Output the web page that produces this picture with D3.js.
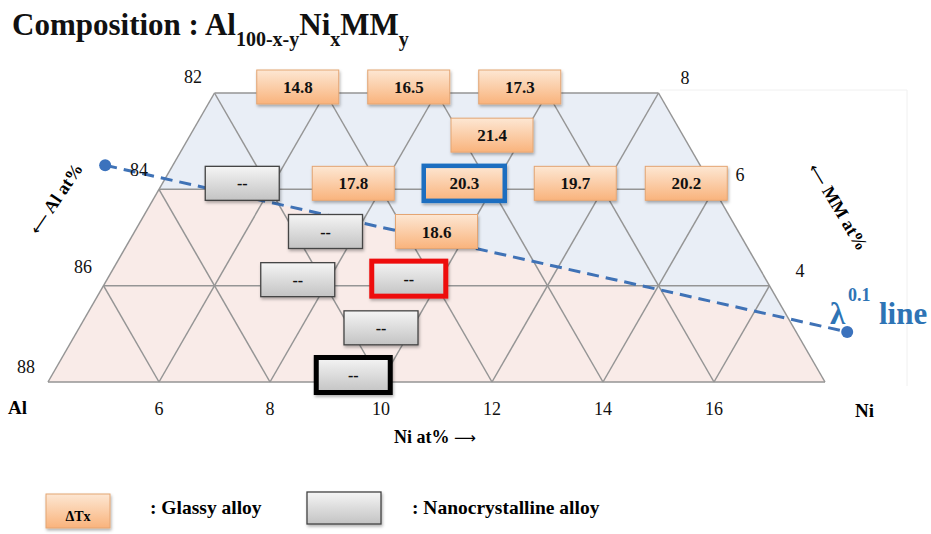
<!DOCTYPE html>
<html><head><meta charset="utf-8">
<script src="https://cdn.jsdelivr.net/npm/d3@7/dist/d3.min.js"></script>
<style>
html,body{margin:0;padding:0;background:#fff;}
svg{display:block;font-family:"Liberation Serif","Times New Roman",serif;}
</style></head>
<body>
<svg id="chart" width="931" height="534"></svg>
<script>
// ---- data ----
const niTicks = [6, 8, 10, 12, 14, 16];
const alTicks = [82, 84, 86, 88];
const mmTicks = [8, 6, 4];

const glassyNi  = [8.5, 10.5, 12.5, 12, 9.5, 11.5, 13.5, 15.5, 11];
const glassyAl  = [82, 82, 82, 83, 84, 84, 84, 84, 85];
const glassyDTx = ["14.8", "16.5", "17.3", "21.4", "17.8", "20.3", "19.7", "20.2", "18.6"];
const glassyMark = ["", "", "", "", "", "blue", "", "", ""];

const nanoNi   = [7.5, 9, 8.5, 10.5, 10, 9.5];
const nanoAl   = [84, 85, 86, 86, 87, 88];
const nanoLabel = ["--", "--", "--", "--", "--", "--"];
const nanoMark = ["", "", "", "red", "", "black"];

const lambdaNi = [5.03, 18.4];
const lambdaAl = [83.5, 86.96];

// ---- scales ----
const svg = d3.select("#chart");
const x = d3.scaleLinear().domain([4, 18]).range([48, 825]);
const y = d3.scaleLinear().domain([82, 88]).range([93, 382]);

const leftNi = al => 4 + (88 - al) / 2;
const rightNi = al => 18 - (88 - al) / 2;

const defs = svg.append("defs");
const og = defs.append("linearGradient").attr("id","og").attr("x1",0).attr("y1",0).attr("x2",0).attr("y2",1);
og.append("stop").attr("offset","0%").attr("stop-color","#fde7d3");
og.append("stop").attr("offset","100%").attr("stop-color","#f9b37c");
const gg = defs.append("linearGradient").attr("id","gg").attr("x1",0).attr("y1",0).attr("x2",0).attr("y2",1);
gg.append("stop").attr("offset","0%").attr("stop-color","#f5f5f5");
gg.append("stop").attr("offset","100%").attr("stop-color","#c3c3c3");
const sh = defs.append("filter").attr("id","sh").attr("x","-20%").attr("y","-30%").attr("width","140%").attr("height","170%");
sh.append("feDropShadow").attr("dx",1).attr("dy",2).attr("stdDeviation",1.5).attr("flood-color","#000").attr("flood-opacity",0.3);

const trap = [[leftNi(82),82],[rightNi(82),82],[rightNi(88),88],[leftNi(88),88]];
const line = d3.line().x(d => x(d[0])).y(d => y(d[1]));
defs.append("clipPath").attr("id","trapclip").append("path").attr("d", line(trap) + "Z");

// faint frame
svg.append("path").attr("d","M660,90H907V386").attr("fill","none").attr("stroke","#f0f0f0").attr("stroke-width",1);

// background regions
svg.append("path").attr("d", line(trap) + "Z").attr("fill", "#e9eef6");
const slope = (lambdaAl[1] - lambdaAl[0]) / (lambdaNi[1] - lambdaNi[0]);
const lamAl = ni => lambdaAl[0] + slope * (ni - lambdaNi[0]);
const niAt84 = lambdaNi[0] + (84 - lambdaAl[0]) / slope;
const pinkPoly = [[3,84],[niAt84,84],[19,lamAl(19)],[19,89],[3,89]];
svg.append("path").attr("d", line(pinkPoly) + "Z").attr("fill", "#f9ebe8").attr("clip-path","url(#trapclip)");

// grid
const grid = svg.append("g").attr("stroke","#959595").attr("stroke-width",1.5).attr("fill","none");
alTicks.forEach(al => grid.append("path").attr("d", line([[leftNi(al),al],[rightNi(al),al]])));
for (let n0 = 4; n0 <= 16; n0 += 2) {
  const alTop = Math.max(82, 88 - (18 - n0));
  grid.append("path").attr("d", line([[n0,88],[n0 + (88-alTop)/2, alTop]]));
}
for (let m0 = 6; m0 <= 18; m0 += 2) {
  const alTop = Math.max(82, 88 - (m0 - 4));
  grid.append("path").attr("d", line([[m0,88],[m0 - (88-alTop)/2, alTop]]));
}

// lambda line
svg.append("path").attr("d", line([[lambdaNi[0],lambdaAl[0]],[lambdaNi[1],lambdaAl[1]]]))
  .attr("stroke","#3f72b6").attr("stroke-width",3).attr("stroke-dasharray","12,7").attr("fill","none");
lambdaNi.forEach((n,i) => svg.append("circle").attr("cx",x(n)).attr("cy",y(lambdaAl[i])).attr("r",6).attr("fill","#3b72bd"));

// labels
const lab = svg.append("g").attr("font-size",18).attr("fill","#111");
const alLabPos = [[193,83],[139,176],[83,273],[26,373]];
alTicks.forEach((t,i) => lab.append("text").attr("x",alLabPos[i][0]).attr("y",alLabPos[i][1]).attr("text-anchor","middle").text(t));
const mmLabPos = [[685,84],[740,181],[800,277]];
mmTicks.forEach((t,i) => lab.append("text").attr("x",mmLabPos[i][0]).attr("y",mmLabPos[i][1]).attr("text-anchor","middle").text(t));
niTicks.forEach(t => lab.append("text").attr("x",x(t)).attr("y",415).attr("text-anchor","middle").text(t));

svg.append("text").attr("x",8).attr("y",414).attr("font-size",19).attr("font-weight","bold").text("Al");
svg.append("text").attr("x",855).attr("y",417).attr("font-size",19).attr("font-weight","bold").text("Ni");

function arrowText(sel, before, arrow, after) {
  if (before) sel.append("tspan").text(before);
  sel.append("tspan").attr("font-family","'DejaVu Sans','Noto Sans',sans-serif").attr("font-weight","normal").attr("font-size","0.85em").text(arrow);
  if (after) sel.append("tspan").text(after);
}
arrowText(svg.append("text").attr("x",394).attr("y",443).attr("font-size",18).attr("font-weight","bold"), "Ni at% ", "\u27f6", null);
arrowText(svg.append("text").attr("transform","translate(61,202) rotate(-56)").attr("text-anchor","middle")
  .attr("font-size",18).attr("font-weight","bold"), null, "\u27f5", " Al at%");
arrowText(svg.append("text").attr("transform","translate(833,210) rotate(59)").attr("text-anchor","middle")
  .attr("font-size",18).attr("font-weight","bold"), null, "\u27f5", " MM at%");

// lambda label
const lt = svg.append("g").attr("fill","#2e74b5").attr("font-weight","bold");
lt.append("text").attr("x",830).attr("y",324).attr("font-size",31).text("\u03bb");
lt.append("text").attr("x",848).attr("y",301).attr("font-size",18).text("0.1");
lt.append("text").attr("x",879).attr("y",324).attr("font-size",31).text("line");

// boxes
const OFF = -6;
function box(g, cx, cy, w, h, fill, stroke, sw, label, fs) {
  g.append("rect").attr("x",cx-w/2).attr("y",cy-h/2).attr("width",w).attr("height",h)
    .attr("fill",fill).attr("stroke",stroke).attr("stroke-width",sw).attr("filter","url(#sh)");
  g.append("text").attr("x",cx).attr("y",cy+6).attr("text-anchor","middle")
    .attr("font-size",fs).attr("font-weight","bold").attr("fill","#111").text(label);
}
const markColor = {blue:"#1a6ec0", red:"#ee1111", black:"#000"};
const bg = svg.append("g");
glassyNi.forEach((n,i) => {
  const m = glassyMark[i];
  box(bg, x(n), y(glassyAl[i]) + OFF, m ? 81 : 82, m ? 35 : 34, "url(#og)",
      m ? markColor[m] : "#e4a573", m ? 4.5 : 1, glassyDTx[i], 17);
});
nanoNi.forEach((n,i) => {
  const m = nanoMark[i];
  box(bg, x(n), y(nanoAl[i]) + (m ? OFF - 1 : OFF), 74, m ? 35 : 34, "url(#gg)",
      m ? markColor[m] : "#444", m ? 5 : 1.3, nanoLabel[i], 16);
});

// title
const title = svg.append("text").attr("x",12).attr("y",35).attr("font-size",31).attr("font-weight","bold").attr("fill","#111");
title.append("tspan").text("Composition : Al");
title.append("tspan").attr("dy",11).attr("font-size",20).text("100-x-y");
title.append("tspan").attr("dy",-11).text("Ni");
title.append("tspan").attr("dy",11).attr("font-size",20).text("x");
title.append("tspan").attr("dy",-11).text("MM");
title.append("tspan").attr("dy",11).attr("font-size",20).text("y");

// legend
const lg = svg.append("g");
lg.append("rect").attr("x",46).attr("y",494).attr("width",64).attr("height",34).attr("fill","url(#og)").attr("stroke","#e4a573").attr("filter","url(#sh)");
lg.append("text").attr("x",78).attr("y",521).attr("text-anchor","middle").attr("font-size",14).attr("font-weight","bold").text("\u0394Tx");
lg.append("text").attr("x",150).attr("y",514).attr("font-size",19.5).attr("font-weight","bold").text(": Glassy alloy");
lg.append("rect").attr("x",307).attr("y",492).attr("width",74).attr("height",32).attr("fill","url(#gg)").attr("stroke","#444").attr("stroke-width",1.3).attr("filter","url(#sh)");
lg.append("text").attr("x",412).attr("y",514).attr("font-size",19.5).attr("font-weight","bold").text(": Nanocrystalline alloy");
</script>
</body></html>
